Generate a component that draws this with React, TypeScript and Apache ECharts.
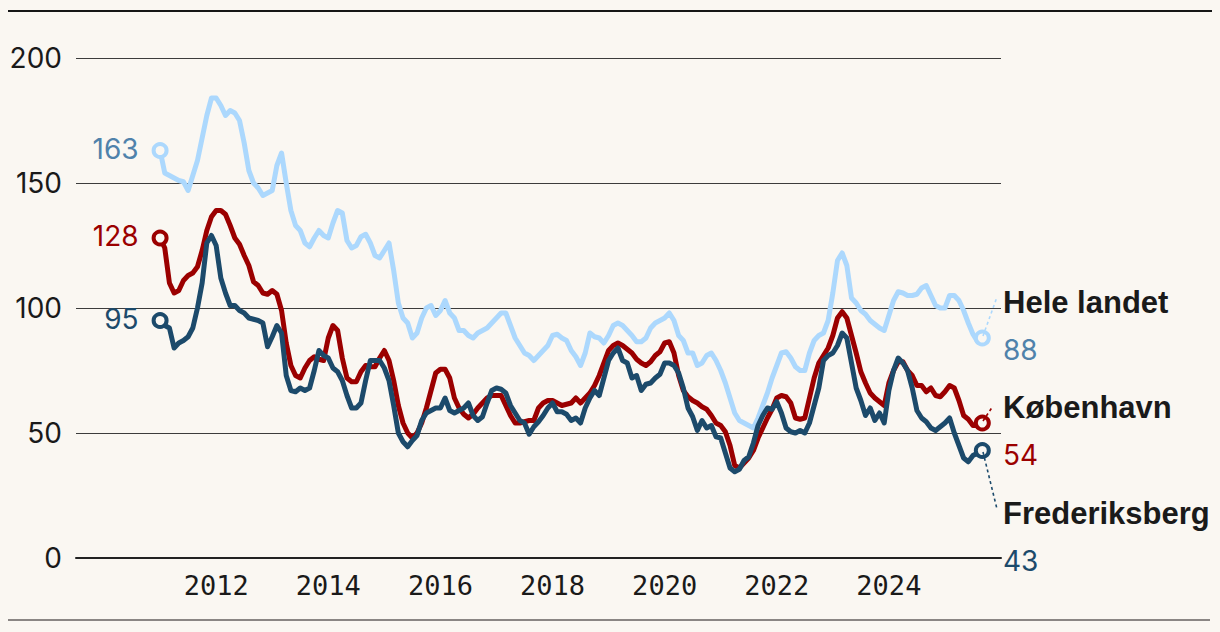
import React, { useEffect, useRef } from "react";
import * as echarts from "echarts";

const START_YEAR = 2011; // first observation: January 2011, monthly data
const X_TICKS = [2012, 2014, 2016, 2018, 2020, 2022, 2024];
const SERIES_NAMES = ["Hele landet", "København", "Frederiksberg"];

const HELE_LANDET = [
  163, 154, 153, 152, 151, 150.5, 147, 153, 159, 168,
  177, 184, 184, 181, 177, 179, 178, 175, 166, 155,
  150, 148, 145, 146, 147, 157, 162, 150, 139, 133,
  131, 126, 124.5, 128, 131, 129, 128, 134, 139, 138,
  127, 124, 125, 128.5, 129.5, 126, 121, 120, 123, 126,
  115, 102, 96, 94, 88, 90, 96, 100, 101, 97,
  99, 103, 98, 96, 91, 91, 89, 88, 90, 91,
  92, 94, 96, 98, 98, 93, 88, 85, 82, 81,
  79, 81, 83, 85, 89, 89.5, 88, 87, 83, 80.5,
  77, 82, 90, 88.5, 88, 86, 89, 93, 94, 93,
  91, 89, 86.5, 86.5, 88, 92, 94, 95, 96, 98,
  95, 89, 87, 82, 82, 77, 78, 81, 82, 79,
  75, 70, 64, 58, 55, 54, 53, 52, 56, 61,
  66, 72, 77, 82, 82.5, 80, 76.5, 75, 75, 82,
  87, 89, 90, 95, 106, 119, 122, 117, 104, 102,
  99, 97.5, 95, 93.5, 92, 91, 97, 103, 106.5, 106,
  105, 105, 105.5, 108, 109, 105, 101, 100, 100, 105,
  105, 103, 99, 94, 89.5, 86.5, 88,
];

const KOBENHAVN = [
  128, 124, 110, 106, 107, 111, 113, 114, 116.5, 123,
  131, 136.5, 139, 139, 137.5, 133, 128, 125.5, 121, 117,
  110.5, 109, 106, 105.5, 107, 105.5, 99, 86, 77, 73,
  72, 76, 79, 80.5, 79.5, 79, 88, 93, 91, 80,
  72, 70.5, 70.5, 74.5, 77, 76.5, 76.5, 80, 83, 79,
  71, 61, 54, 50, 48, 50, 54, 60, 67, 74,
  75.5, 75.5, 72, 64, 60, 57.5, 56, 57.5, 60, 62,
  64, 65, 65, 65, 61, 57, 54, 54, 54.5, 55,
  55, 60, 62, 63, 63, 62, 61, 61.5, 62, 64,
  62, 64, 66, 69, 73, 78, 83, 85, 86, 85,
  83.5, 82, 79.5, 78, 77, 78.5, 81, 82.5, 86, 86.5,
  82, 73, 67, 64.5, 63, 62, 60.5, 59.5, 57, 54,
  53, 50.5, 45, 37, 36, 38, 40, 43, 48, 52,
  56, 59.5, 64, 65, 64.5, 62, 56, 55.5, 56, 64,
  72, 78, 81, 84, 89, 96, 98.5, 96, 89, 82,
  74.5, 70, 66, 64, 62.5, 61, 70, 75, 78.5, 78.5,
  75, 73, 69, 69, 66.5, 68, 65, 64.5, 66.5, 69,
  68, 63, 57, 55.5, 53, 53, 54,
];

const FREDERIKSBERG = [
  95, 93, 92, 84, 86, 87, 88.5, 92, 100, 110,
  126, 129, 125, 112, 106, 101, 101, 99, 98, 96,
  95.5, 95, 94, 84.5, 88.5, 93, 90, 73, 67, 66.5,
  68, 67, 68, 75, 83, 81, 80, 76, 74.5, 71,
  65, 60, 60, 62, 71, 79, 79, 79, 76, 71,
  61, 50, 46.5, 44.5, 47, 49, 55, 58, 59, 60,
  60, 64, 59, 58, 59, 60, 62, 57, 55, 56.5,
  62, 67, 68, 67.5, 66, 61, 58, 55, 54, 49.5,
  52.5, 54.5, 57, 60, 62, 58.5, 58.5, 57.5, 55, 56,
  54, 60, 64, 67, 65, 72, 79, 82, 84, 79,
  78, 72, 73, 67, 69.5, 70, 72, 73.5, 78, 78,
  77, 74, 68, 60, 56.5, 51, 55, 52, 53, 48.5,
  48, 42, 36, 34.5, 35.5, 39, 40.5, 46, 53, 57,
  60, 59.5, 62.5, 58, 52, 50.5, 50, 51, 50, 54,
  61, 68, 79, 81, 82, 85, 90, 88, 78, 68,
  63, 57, 60, 55, 58, 54, 67, 75, 80, 78,
  75, 68, 59, 56, 54.5, 52, 51, 52.5, 54, 56,
  50, 45, 40, 38.5, 41, 42, 43,
];

const BG = "#faf7f2";
const LIGHT = "#acd8fd";
const LIGHT_TEXT = "#4f82ab";
const RED = "#9b0000";
const DARK = "#1c4a6b";
const INK = "#1a1a1a";
const NUM_FONT = "Inter, 'Noto Sans', sans-serif";
const MONO_FONT = "'DejaVu Sans Mono', 'Liberation Mono', monospace";
const LABEL_FONT = "'Liberation Sans', Arial, sans-serif";

const toPairs = (arr: number[]) => arr.map((v, i) => [START_YEAR + i / 12, v]);

export default function App() {
  const ref = useRef<HTMLDivElement>(null);

  useEffect(() => {
    document.body.style.margin = "0";
    document.body.style.background = BG;
    if (!ref.current) return;
    const chart = echarts.init(ref.current, undefined, { renderer: "svg" });

    const defs = [
      { name: SERIES_NAMES[0], data: HELE_LANDET, color: LIGHT, text: LIGHT_TEXT },
      { name: SERIES_NAMES[1], data: KOBENHAVN, color: RED, text: RED },
      { name: SERIES_NAMES[2], data: FREDERIKSBERG, color: DARK, text: DARK },
    ];

    const lineSeries = defs.map((d, k) => ({
      type: "line",
      name: d.name,
      data: toPairs(d.data),
      showSymbol: false,
      lineStyle: { color: d.color, width: 5, join: "round", cap: "round" },
      z: 2 + k,
      silent: true,
    }));

    const endSeries = defs.map((d, k) => {
      const pairs = toPairs(d.data);
      const first = pairs[0];
      const last = pairs[pairs.length - 1];
      return {
        type: "scatter",
        name: d.name + " ends",
        data: [
          {
            value: first,
            label: {
              show: true,
              position: "left",
              distance: 13,
              offset: [0, -2],
              formatter: String(Math.round(first[1] as number)),
              fontFamily: NUM_FONT,
              fontSize: 28,
              color: d.text,
            },
          },
          { value: last },
        ],
        symbol: "circle",
        symbolSize: 13,
        itemStyle: { color: BG, borderColor: d.color, borderWidth: 4, opacity: 1 },
        z: 10 + k,
        silent: true,
      };
    });

    const last = (a: number[]) => Math.round(a[a.length - 1]);

    const graphic: any[] = [
      { type: "line", shape: { x1: 8, y1: 11, x2: 1212, y2: 11 }, style: { stroke: "#161616", lineWidth: 2 } },
      { type: "line", shape: { x1: 8, y1: 620, x2: 1210, y2: 620 }, style: { stroke: "#8a8684", lineWidth: 2 } },
      // leader lines
      { type: "line", z: 20, shape: { x1: 983, y1: 336, x2: 997, y2: 297 }, style: { stroke: LIGHT, lineWidth: 1.6, lineDash: [3, 3] } },
      { type: "line", z: 20, shape: { x1: 983, y1: 421, x2: 993, y2: 406 }, style: { stroke: RED, lineWidth: 1.6, lineDash: [3, 3] } },
      { type: "line", z: 20, shape: { x1: 983, y1: 452, x2: 997, y2: 509 }, style: { stroke: DARK, lineWidth: 1.6, lineDash: [3, 3] } },
      // right labels
      { type: "text", x: 1003, y: 302, style: { text: SERIES_NAMES[0], font: `bold 31px ${LABEL_FONT}`, fill: INK, verticalAlign: "middle" } },
      { type: "text", x: 1003, y: 350, style: { text: String(last(HELE_LANDET)), font: `28px ${NUM_FONT}`, fill: LIGHT_TEXT, verticalAlign: "middle" } },
      { type: "text", x: 1003, y: 407, style: { text: SERIES_NAMES[1], font: `bold 31px ${LABEL_FONT}`, fill: INK, verticalAlign: "middle" } },
      { type: "text", x: 1003, y: 455, style: { text: String(last(KOBENHAVN)), font: `28px ${NUM_FONT}`, fill: RED, verticalAlign: "middle" } },
      { type: "text", x: 1003, y: 513, style: { text: SERIES_NAMES[2], font: `bold 31px ${LABEL_FONT}`, fill: INK, verticalAlign: "middle" } },
      { type: "text", x: 1003, y: 561, style: { text: String(last(FREDERIKSBERG)), font: `28px ${NUM_FONT}`, fill: DARK, verticalAlign: "middle" } },
    ];

    chart.setOption({
      animation: false,
      backgroundColor: BG,
      grid: { left: 76, right: 219, top: 58, bottom: 74, containLabel: false },
      xAxis: {
        type: "value",
        min: 2009.5,
        max: 2026,
        axisLine: { show: true, lineStyle: { color: "#222", width: 2 } },
        axisTick: { show: false },
        splitLine: { show: false },
        axisLabel: {
          customValues: X_TICKS,
          formatter: (v: number) => String(Math.round(v)),
          fontFamily: MONO_FONT,
          fontSize: 27,
          color: INK,
          margin: 14,
        },
      },
      yAxis: {
        type: "value",
        min: 0,
        max: 200,
        interval: 50,
        axisLine: { show: false },
        axisTick: { show: false },
        splitLine: { show: true, lineStyle: { color: "#3c3c3c", width: 1 } },
        axisLabel: {
          fontFamily: NUM_FONT,
          fontSize: 28,
          color: INK,
          margin: 14,
        },
      },
      series: [...lineSeries, ...endSeries],
      graphic,
    });

    return () => chart.dispose();
  }, []);

  return <div ref={ref} style={{ width: 1220, height: 632, background: BG }} />;
}
